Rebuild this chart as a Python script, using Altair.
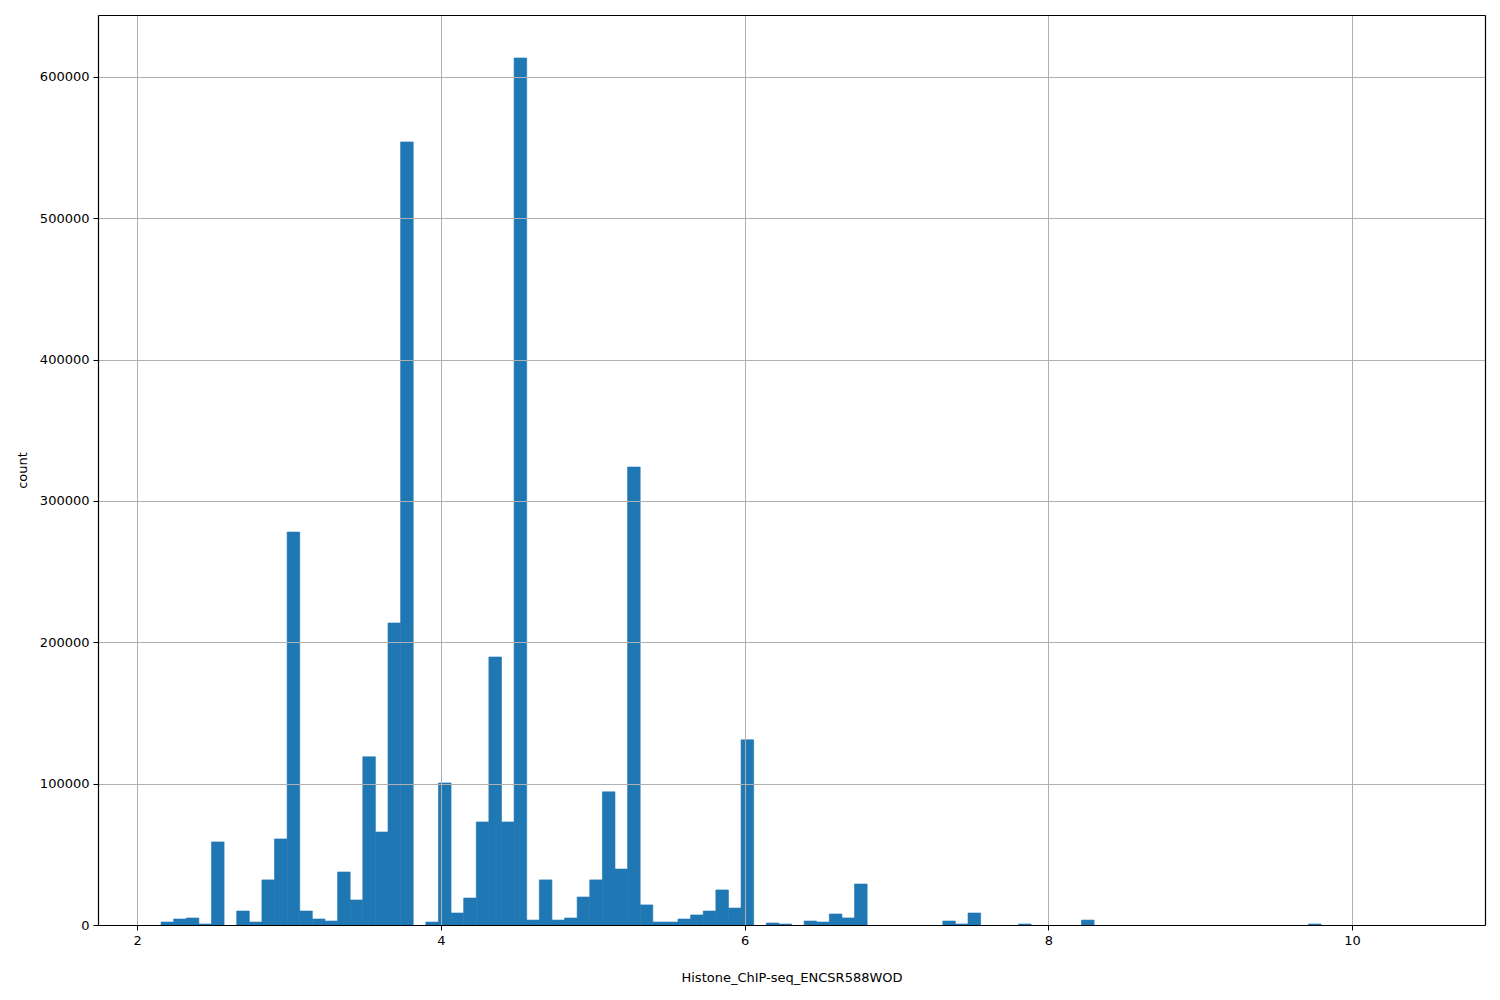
import altair as alt
import numpy as np
import pandas as pd

# Histogram data (100 equal bins between data min and max)
x_min = 2.158
x_max = 10.46
n_bins = 100
counts = [
    2100, 4250, 4960, 700, 58800, 0, 9900, 2100, 31900, 60900,
    278000, 9900, 4250, 2800, 37500, 17700, 119000, 65800, 213700, 554000,
    0, 2100, 100500, 8500, 19100, 72900, 189600, 72900, 613400, 3500,
    31900, 3500, 4960, 19800, 31900, 94200, 39600, 324000, 14200, 2100,
    2100, 4250, 7100, 9900, 24800, 12000, 131000, 0, 1400, 700,
    0, 2800, 2100, 7800, 5000, 29000, 0, 0, 0, 0,
    0, 0, 2800, 700, 8500, 0, 0, 0, 700, 0,
    0, 0, 0, 3500, 0, 0, 0, 0, 0, 0,
    0, 0, 0, 0, 0, 0, 0, 0, 0, 0,
    0, 700, 0, 0, 0, 0, 0, 0, 0, 0,
]
x_ticks = [2, 4, 6, 8, 10]
y_ticks = [0, 100000, 200000, 300000, 400000, 500000, 600000]
x_title = "Histone_ChIP-seq_ENCSR588WOD"
y_title = "count"

edges = np.linspace(x_min, x_max, n_bins + 1)
df = pd.DataFrame({"start": edges[:-1], "end": edges[1:], "count": counts})

span = x_max - x_min
x_dom = [x_min - 0.05 * span, x_max + 0.05 * span]
y_dom = [0, 643800]

font = "DejaVu Sans"

common_axis = dict(
    grid=True, gridColor="#b0b0b0", gridWidth=1, tickColor="black", tickSize=5,
    domain=True, domainColor="black", domainWidth=1.2,
    labelPadding=4, labelFontSize=13, labelColor="black",
    titleFontSize=13, titleFontWeight="normal", titleColor="black",
    labelFont=font, titleFont=font, zindex=1,
)
frame_axis = dict(
    grid=False, ticks=False, labels=False, title=None,
    domain=True, domainColor="black", domainWidth=1.2, zindex=1,
)

x_scale = alt.Scale(domain=x_dom, nice=False, zero=False)
y_scale = alt.Scale(domain=y_dom, nice=False)

bars = (
    alt.Chart(df)
    .transform_filter(alt.datum.count > 0)
    .mark_rect(color="#1f77b4", stroke="#1f77b4", strokeWidth=0.6)
    .encode(
        x=alt.X("start:Q", scale=x_scale,
                axis=alt.Axis(values=x_ticks, format="d", title=x_title,
                              titlePadding=24, **common_axis)),
        x2="end:Q",
        y=alt.Y("count:Q", scale=y_scale,
                axis=alt.Axis(values=y_ticks, format="d", title=y_title,
                              titlePadding=10, **common_axis)),
        y2=alt.datum(0),
    )
)

frame = (
    alt.Chart(df)
    .mark_point(opacity=0)
    .encode(
        x=alt.X("start:Q", scale=x_scale, axis=alt.Axis(orient="top", **frame_axis)),
        y=alt.Y("count:Q", scale=y_scale, axis=alt.Axis(orient="right", **frame_axis)),
    )
)

chart = (
    alt.layer(bars, frame)
    .resolve_axis(x="independent", y="independent")
    .properties(
        width=1387,
        height=910,
        autosize=alt.AutoSizeParams(type="none"),
        padding={"left": 90, "top": 7, "right": 5, "bottom": 70},
    )
    .configure_view(stroke=None)
    .configure(background="white")
)

chart.save("out.html", embed_options={"renderer": "svg", "actions": False})
